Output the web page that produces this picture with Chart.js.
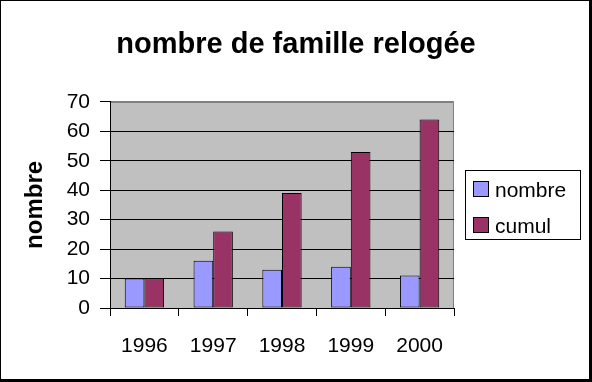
<!DOCTYPE html>
<html><head><meta charset="utf-8">
<script src="https://cdn.jsdelivr.net/npm/chart.js@4"></script>
<style>html,body{margin:0;padding:0;background:#fff;overflow:hidden}</style>
</head><body><canvas id="c" width="592" height="382" style="display:block;width:592px;height:382px"></canvas>
<script>
const categories = ['1996', '1997', '1998', '1999', '2000'];
const nombreValues = [10, 16, 13, 14, 11];
const cumulValues = [10, 26, 39, 53, 64];
const seriesLabels = ['nombre', 'cumul'];
const seriesColors = ['#9999FF', '#993366'];
const yTickValues = [0, 10, 20, 30, 40, 50, 60, 70];
const chartTitle = 'nombre de famille relogée';
const yAxisTitle = 'nombre';

const FONT = "'Liberation Sans', Arial, sans-serif";

const framePlugin = {
  id: 'frame',
  beforeDraw(chart) {
    const ctx = chart.ctx, a = chart.chartArea;
    ctx.save();
    ctx.fillStyle = '#fff';
    ctx.fillRect(0, 0, chart.width, chart.height);
    ctx.fillStyle = '#C0C0C0';
    ctx.fillRect(a.left, a.top, a.right - a.left, a.bottom - a.top);
    ctx.strokeStyle = '#808080';
    ctx.lineWidth = 1;
    ctx.beginPath();
    ctx.moveTo(a.left, Math.round(a.top) + 0.5);
    ctx.lineTo(Math.round(a.right) - 0.5, Math.round(a.top) + 0.5);
    ctx.lineTo(Math.round(a.right) - 0.5, a.bottom);
    ctx.stroke();
    ctx.restore();
  },
  afterDraw(chart) {
    const ctx = chart.ctx, W = chart.width, H = chart.height;
    ctx.save();
    // legend
    const lx = 465, ly = 170, lw = 116, lh = 70;
    ctx.fillStyle = '#fff';
    ctx.fillRect(lx, ly, lw, lh);
    ctx.strokeStyle = '#000';
    ctx.lineWidth = 1;
    ctx.strokeRect(lx + 0.5, ly + 0.5, lw - 1, lh - 1);
    ctx.font = '21px ' + FONT;
    ctx.textBaseline = 'alphabetic';
    ctx.textAlign = 'left';
    chart.data.datasets.forEach((ds, i) => {
      const sy = 181 + i * 36;
      ctx.fillStyle = ds.backgroundColor;
      ctx.fillRect(473, sy, 16, 16);
      ctx.strokeRect(473.5, sy + 0.5, 15, 15);
      ctx.fillStyle = '#000';
      ctx.fillText(ds.label, 495, sy + 16);
    });
    // outer frame
    ctx.fillStyle = '#000';
    ctx.fillRect(0, 0, W, 1);
    ctx.fillRect(0, 0, 1, H);
    ctx.fillRect(W - 3, 0, 3, H);
    ctx.fillRect(0, H - 3, W, 3);
    ctx.restore();
  }
};

new Chart(document.getElementById('c'), {
  type: 'bar',
  data: {
    labels: categories,
    datasets: [
      { label: seriesLabels[0], data: nombreValues, backgroundColor: seriesColors[0], borderColor: '#000', borderWidth: 1, borderSkipped: false, categoryPercentage: 0.5714, barPercentage: 1 },
      { label: seriesLabels[1], data: cumulValues, backgroundColor: seriesColors[1], borderColor: '#000', borderWidth: 1, borderSkipped: false, categoryPercentage: 0.5714, barPercentage: 1 }
    ]
  },
  options: {
    responsive: false,
    animation: false,
    devicePixelRatio: 1,
    layout: { padding: { left: 0, right: 0, top: 0, bottom: 0 } },
    plugins: {
      legend: { display: false },
      tooltip: { enabled: false },
      title: {
        display: true,
        text: chartTitle,
        color: '#000',
        font: { family: FONT, size: 29, weight: 'bold' },
        padding: { top: 28, bottom: 39 }
      }
    },
    scales: {
      x: {
        grid: { display: true, drawOnChartArea: false, drawTicks: true, tickLength: 8, color: '#000', tickColor: '#000', offset: true },
        border: { display: true, color: '#000', width: 1 },
        ticks: { color: '#000', font: { family: FONT, size: 21 }, padding: 18, maxRotation: 0 },
        afterFit(scale) { scale.height = 74; }
      },
      y: {
        min: 0, max: 70,
        afterBuildTicks(scale) { scale.ticks = yTickValues.map(v => ({ value: v })); },
        grid: {
          color: (c) => (c.tick && c.tick.value === 70 ? '#808080' : '#000'),
          tickColor: '#000', tickLength: 10, lineWidth: 1
        },
        border: { display: true, color: '#000', width: 1 },
        ticks: { color: '#000', font: { family: FONT, size: 21 }, padding: 10 },
        title: {
          display: true, text: yAxisTitle, color: '#000',
          font: { family: FONT, size: 24, weight: 'bold' },
          padding: { top: 21, bottom: 0 }
        },
        afterFit(scale) { scale.width = 110; }
      },
      legendSpace: {
        type: 'linear',
        position: 'right',
        display: true,
        grid: { display: false, drawTicks: false },
        border: { display: false },
        ticks: { display: false },
        afterFit(scale) { scale.width = 138; }
      }
    }
  },
  plugins: [framePlugin]
});
</script>
</body></html>
